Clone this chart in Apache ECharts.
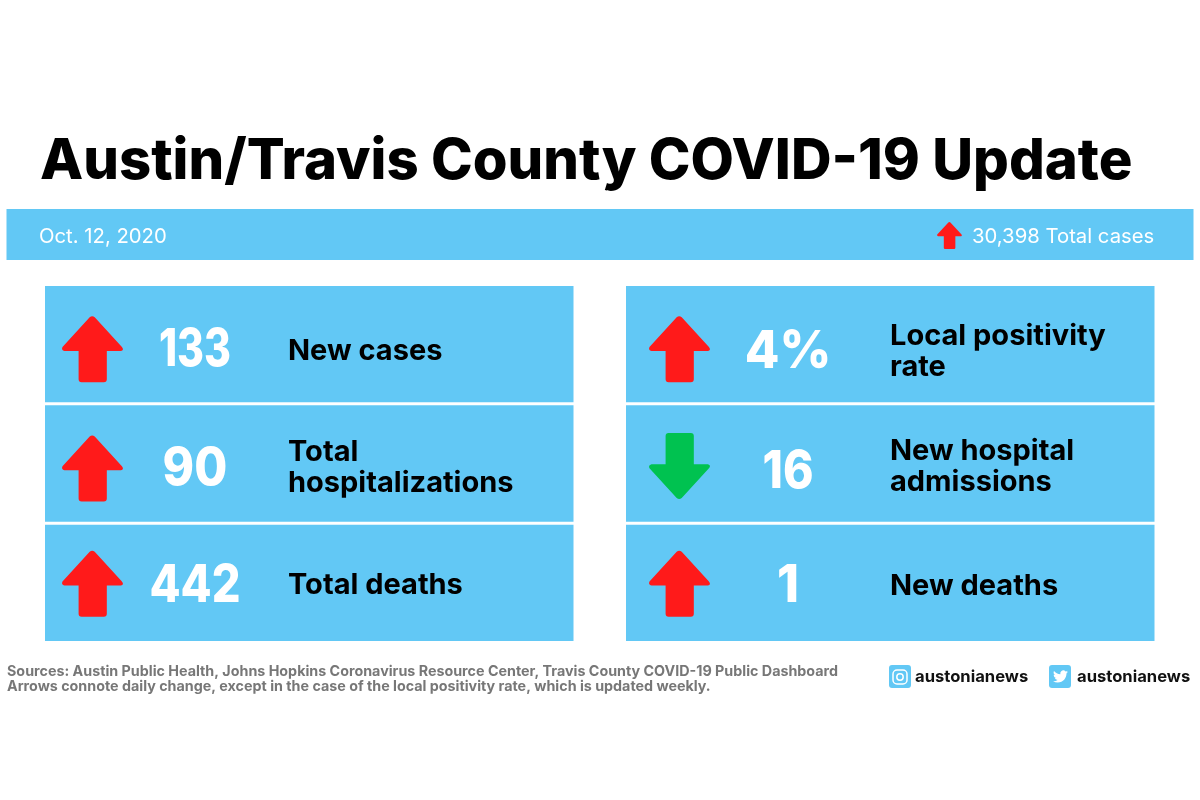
<!DOCTYPE html>
<html>
<head>
<meta charset="utf-8">
<title>Austin/Travis County COVID-19 Update</title>
<style>html,body{margin:0;padding:0;background:#fff}#chart{width:1200px;height:800px}</style>
<script src="https://cdn.jsdelivr.net/npm/echarts@6/dist/echarts.min.js"></script>
</head>
<body>
<div id="chart"></div>
<script>
var titleText = 'Austin/Travis County COVID-19 Update';
var dateText = 'Oct. 12, 2020';
var totalText = '30,398 Total cases';
var sourceText = 'Sources: Austin Public Health, Johns Hopkins Coronavirus Resource Center, Travis County COVID-19 Public Dashboard\nArrows connote daily change, except in the case of the local positivity rate, which is updated weekly.';
var handleText = 'austonianews';

var leftNames = ['New cases', 'Total\nhospitalizations', 'Total deaths'];
var leftValues = ['133', '90', '442'];
var leftTrends = ['up', 'up', 'up'];
var rightNames = ['Local positivity\nrate', 'New hospital\nadmissions', 'New deaths'];
var rightValues = ['4%', '16', '1'];
var rightTrends = ['up', 'down', 'up'];

var BLUE = '#62c8f5';
var RED = '#ff1a1a';
var GREEN = '#00c250';
var FONT = 'Inter';

// arrow pointing up, rounded corners, 61 x 66
var arrowUp = 'M28 1.5Q30.5 -0.5 33 1.5L60 31Q62.5 34 59 35L45 35L45 63Q45 66 42 66L20 66Q17 66 17 63L17 35L3 35Q-0.5 34 1 31Z';
var arrowDown = 'M28 64.5Q30.5 66.5 33 64.5L60 35Q62.5 32 59 31L45 31L45 3Q45 0 42 0L20 0Q17 0 17 3L17 31L3 31Q-0.5 32 1 35Z';
var birdPath = 'M23.953 4.57a10 10 0 0 1-2.825.775 4.958 4.958 0 0 0 2.163-2.723c-.951.555-2.005.959-3.127 1.184a4.92 4.92 0 0 0-8.384 4.482C7.69 8.095 4.067 6.13 1.64 3.162a4.822 4.822 0 0 0-.666 2.475c0 1.71.87 3.213 2.188 4.096a4.904 4.904 0 0 1-2.228-.616v.06a4.923 4.923 0 0 0 3.946 4.827 4.996 4.996 0 0 1-2.212.085 4.936 4.936 0 0 0 4.604 3.417 9.867 9.867 0 0 1-6.102 2.105c-.39 0-.779-.023-1.17-.067a13.995 13.995 0 0 0 7.557 2.209c9.053 0 13.998-7.496 13.998-13.985 0-.21 0-.42-.015-.63A9.935 9.935 0 0 0 24 4.59z';

// x offsets inside a tile, vertical nudges per row, and a squeeze for the big numbers
var leftLayout = {arrowX: 17, valueX: 150, nameX: 243, arrow: [5, 5, 1], value: [6, 6, 4], name: [7, 4.5, 2], squeeze: [0.79, 0.92, 0.87]};
var rightLayout = {arrowX: 23, valueX: 162, nameX: 264, arrow: [5, 2.5, 1], value: [8, 9, 4], name: [8, 3, 3], squeeze: [0.97, 0.89, 0.96]};

function tileRenderer(names, values, trends, layout) {
	return function (params, api) {
		var i = api.value(1);
		var c = api.coord([0, i]);
		var end = api.coord([1, i]);
		var size = api.size([0, 1]);
		var h = size[1] - 3;
		var cy = c[1];
		return {
			type: 'group',
			children: [
				{type: 'rect', shape: {x: c[0], y: cy - h / 2, width: end[0] - c[0], height: h}, style: {fill: BLUE}},
				{type: 'path', shape: {pathData: trends[i] === 'up' ? arrowUp : arrowDown, x: c[0] + layout.arrowX, y: cy - 33 + layout.arrow[i], width: 61, height: 66},
					style: {fill: trends[i] === 'up' ? RED : GREEN}},
				{type: 'text', x: c[0] + layout.valueX, y: cy + layout.value[i], scaleX: layout.squeeze[i],
					style: {text: values[i], fill: '#fff', font: '800 52px ' + FONT, align: 'center', verticalAlign: 'middle'}},
				{type: 'text', x: c[0] + layout.nameX, y: cy + layout.name[i],
					style: {text: names[i], fill: '#000', font: '700 29px ' + FONT, lineHeight: 31, align: 'left', verticalAlign: 'middle'}}
			]
		};
	};
}

// band, footer and social icons sit outside the two grids
function chromeRenderer() {
	return {
		type: 'group',
		children: [
			{type: 'rect', shape: {x: 6.5, y: 209, width: 1187, height: 51}, style: {fill: BLUE}},
			{type: 'text', x: 39, y: 237, style: {text: dateText, fill: '#fff', font: '400 20.3px ' + FONT, verticalAlign: 'middle'}},
			{type: 'path', shape: {pathData: arrowUp, x: 936, y: 222, width: 27, height: 27}, style: {fill: RED}},
			{type: 'text', x: 972, y: 237, style: {text: totalText, fill: '#fff', font: '400 20.3px ' + FONT, verticalAlign: 'middle'}},
			{type: 'text', x: 7, y: 679.5, style: {text: sourceText, fill: '#777', font: '700 14.3px ' + FONT, lineHeight: 15, verticalAlign: 'middle'}},
			{type: 'rect', shape: {x: 889, y: 665, width: 22, height: 23, r: 3}, style: {fill: BLUE}},
			{type: 'rect', shape: {x: 893, y: 670, width: 14, height: 14, r: 4}, style: {fill: 'none', stroke: '#fff', lineWidth: 1.5}},
			{type: 'circle', shape: {cx: 900, cy: 677, r: 3.2}, style: {fill: 'none', stroke: '#fff', lineWidth: 1.5}},
			{type: 'text', x: 915, y: 677, style: {text: handleText, fill: '#111', font: '700 16.6px ' + FONT, verticalAlign: 'middle'}},
			{type: 'rect', shape: {x: 1049, y: 665, width: 22, height: 23, r: 3}, style: {fill: BLUE}},
			{type: 'path', shape: {pathData: birdPath, x: 1053, y: 670, width: 15, height: 13}, style: {fill: '#fff'}},
			{type: 'text', x: 1077, y: 677, style: {text: handleText, fill: '#111', font: '700 16.6px ' + FONT, verticalAlign: 'middle'}}
		]
	};
}

var rowIndex = [0, 1, 2];
function rowData() {
	return rowIndex.map(function (i) { return [0, i]; });
}

var myChart = echarts.init(document.getElementById('chart'), null, {renderer: 'canvas'});
var option = {
	backgroundColor: '#fff',
	animation: false,
	title: {
		text: titleText, left: 35, top: 129,
		textStyle: {fontFamily: FONT, fontWeight: 800, fontSize: 56.2, color: '#000'}
	},
	grid: [
		{left: 45, top: 284.5, width: 528.5, height: 358},
		{left: 626, top: 284.5, width: 528.5, height: 358}
	],
	xAxis: [
		{gridIndex: 0, type: 'value', min: 0, max: 1, show: false},
		{gridIndex: 1, type: 'value', min: 0, max: 1, show: false}
	],
	yAxis: [
		{gridIndex: 0, type: 'category', data: leftNames, inverse: true, show: false},
		{gridIndex: 1, type: 'category', data: rightNames, inverse: true, show: false}
	],
	series: [
		{type: 'custom', coordinateSystem: 'none', data: [[0]], renderItem: chromeRenderer},
		{type: 'custom', xAxisIndex: 0, yAxisIndex: 0, data: rowData(), encode: {x: 0, y: 1},
			renderItem: tileRenderer(leftNames, leftValues, leftTrends, leftLayout)},
		{type: 'custom', xAxisIndex: 1, yAxisIndex: 1, data: rowData(), encode: {x: 0, y: 1},
			renderItem: tileRenderer(rightNames, rightValues, rightTrends, rightLayout)}
	]
};
myChart.setOption(option);
</script>
</body>
</html>
